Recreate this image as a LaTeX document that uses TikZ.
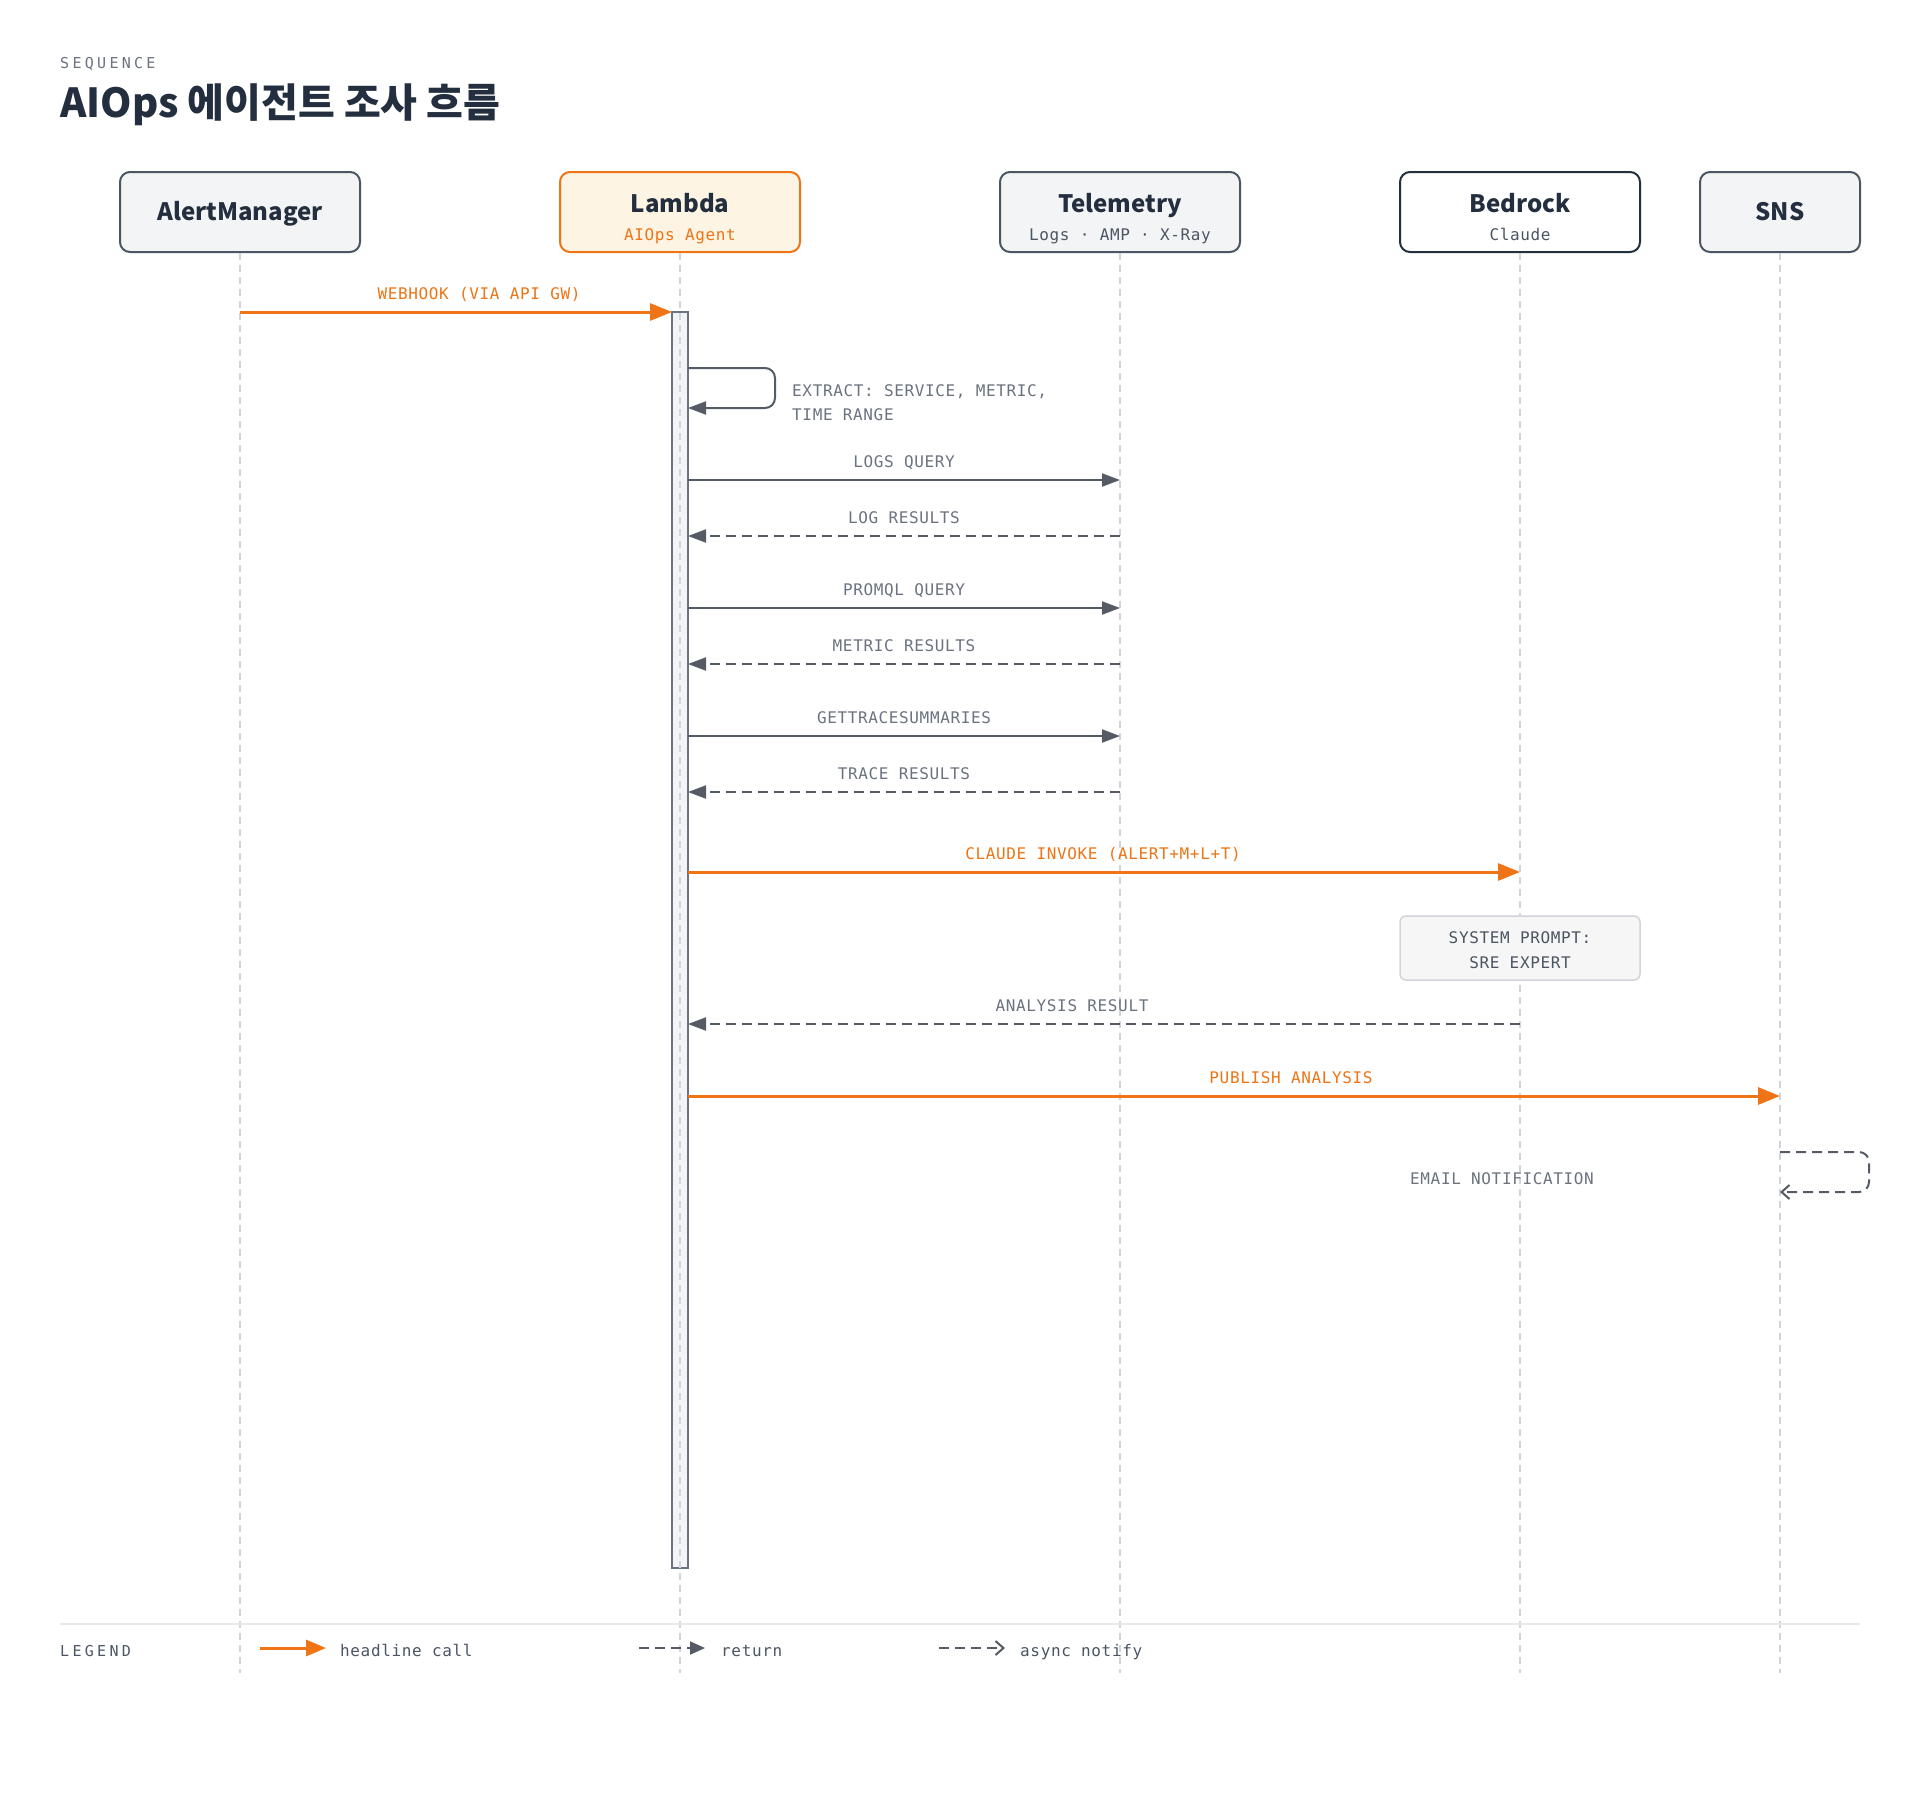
\documentclass[tikz,border=0pt]{standalone}
\usepackage{fontspec}
\usetikzlibrary{arrows.meta}
\setmainfont{Noto Sans CJK KR}
\setmonofont{DejaVu Sans Mono}
\newfontfamily\lblfont{DejaVu Sans Mono}[LetterSpace=4]
\newfontfamily\capfont{DejaVu Sans Mono}[LetterSpace=22]
\definecolor{accent}{HTML}{EE7415}
\definecolor{ink}{HTML}{232F3E}
\definecolor{arrowgray}{HTML}{545B64}
\definecolor{lblgray}{HTML}{6B7280}
\definecolor{subgray}{HTML}{4B5563}
\definecolor{lifegray}{HTML}{D1D5DB}
\definecolor{boxfill}{HTML}{F3F4F6}
\definecolor{lamfill}{HTML}{FEF4E4}
\definecolor{notefill}{HTML}{F6F6F6}
\definecolor{sepgray}{HTML}{E8E8E8}
\tikzset{
  every node/.style={inner sep=0pt},
  actor/.style={draw=subgray,fill=boxfill,line width=2pt,rounded corners=10pt,minimum width=240pt,minimum height=80pt},
  actortxt/.style={anchor=base,text=ink,font=\bfseries\fontsize{24}{28}\selectfont},
  subtxt/.style={anchor=base,text=subgray,font=\lblfont\fontsize{16}{19}\selectfont},
  lbl/.style={anchor=base,text=lblgray,font=\lblfont\fontsize{16}{19}\selectfont},
  legtxt/.style={anchor=base west,text=subgray,font=\lblfont\fontsize{16}{19}\selectfont},
  lifeline/.style={draw=lifegray,line width=1.5pt,dash pattern=on 7pt off 5pt},
  call/.style={draw=accent,line width=3pt,-{Triangle[length=22pt,width=17pt]}},
  msg/.style={draw=arrowgray,line width=2pt,-{Triangle[length=18pt,width=13pt]}},
  ret/.style={msg,dash pattern=on 10pt off 6pt},
  async/.style={draw=arrowgray,line width=2pt,dash pattern=on 10pt off 6pt,-{Straight Barb[length=8pt,width=14pt]}}
}
\begin{document}
\begin{tikzpicture}[x=1pt,y=-1pt]
\useasboundingbox[fill=white] (0,0) rectangle (1920,1800);
% heading
\node[anchor=base west,text=lblgray,font=\capfont\fontsize{15}{18}\selectfont] (kicker) at (60,68) {SEQUENCE};
\node[anchor=base west,text=ink,font=\bfseries\fontsize{40}{46}\selectfont] (title) at (60,117) {AIOps 에이전트 조사 흐름};
% actors
\node[actor] (am) at (240,212) {};
\node[actortxt] (am-t) at (240,220) {AlertManager};
\node[actor,draw=accent,fill=lamfill] (lam) at (680,212) {};
\node[actortxt] (lam-t) at (680,212) {Lambda};
\node[subtxt,text=accent] (lam-s) at (680,240) {AIOps Agent};
\node[actor] (tel) at (1120,212) {};
\node[actortxt] (tel-t) at (1120,212) {Telemetry};
\node[subtxt] (tel-s) at (1120,240) {Logs · AMP · X-Ray};
\node[actor,draw=ink,fill=white] (bed) at (1520,212) {};
\node[actortxt] (bed-t) at (1520,212) {Bedrock};
\node[subtxt] (bed-s) at (1520,240) {Claude};
\node[actor,minimum width=160pt] (sns) at (1780,212) {};
\node[actortxt] (sns-t) at (1780,220) {SNS};
% activation bar and lifelines
\node[draw=lblgray,fill=boxfill,line width=2pt,minimum width=16pt,minimum height=1256pt] (bar) at (680,940) {};
\coordinate (base) at (0,1673);
\foreach \a in {am,lam,tel,bed,sns}
  \draw[lifeline] (\a.south) -- (\a.south |- base);
% webhook
\coordinate (wh-a) at (240,312);
\coordinate (wh-b) at (672,312);
\draw[call] (wh-a) -- (wh-b);
\node[lbl,text=accent] (wh-l) at (479,299) {WEBHOOK (VIA API GW)};
% extract
\coordinate (ex-a) at (688,368);
\coordinate (ex-b) at (688,408);
\draw[msg,rounded corners=10pt] (ex-a) -- (775,368) -- (775,408) -- (ex-b);
\node[lbl,anchor=base west] (ex-l1) at (792,396) {EXTRACT: SERVICE, METRIC,};
\node[lbl,anchor=base west] (ex-l2) at (792,420) {TIME RANGE};
% telemetry queries
\foreach \y/\t in {480/LOGS QUERY, 608/PROMQL QUERY, 736/GETTRACESUMMARIES}{
  \coordinate (q\y a) at (688,\y);
  \coordinate (q\y b) at (1120,\y);
  \draw[msg] (q\y a) -- (q\y b);
  \node[lbl] (q\y l) at (904,\y-13) {\t};
}
\foreach \y/\t in {536/LOG RESULTS, 664/METRIC RESULTS, 792/TRACE RESULTS}{
  \coordinate (r\y a) at (1120,\y);
  \coordinate (r\y b) at (688,\y);
  \draw[ret] (r\y a) -- (r\y b);
  \node[lbl] (r\y l) at (904,\y-13) {\t};
}
% bedrock
\coordinate (cl-a) at (688,872);
\coordinate (cl-b) at (1520,872);
\draw[call] (cl-a) -- (cl-b);
\node[lbl,text=accent] (cl-l) at (1103,859) {CLAUDE INVOKE (ALERT+M+L+T)};
\node[draw=lifegray,fill=notefill,line width=1.5pt,rounded corners=6pt,minimum width=240pt,minimum height=64pt] (sp) at (1520,948) {};
\node[lbl,text=subgray] (sp-1) at (1520,943) {SYSTEM PROMPT:};
\node[lbl,text=subgray] (sp-2) at (1520,968) {SRE EXPERT};
\coordinate (an-a) at (1520,1024);
\coordinate (an-b) at (688,1024);
\draw[ret] (an-a) -- (an-b);
\node[lbl] (an-l) at (1072,1011) {ANALYSIS RESULT};
% sns
\coordinate (pu-a) at (688,1096);
\coordinate (pu-b) at (1780,1096);
\draw[call] (pu-a) -- (pu-b);
\node[lbl,text=accent] (pu-l) at (1291,1083) {PUBLISH ANALYSIS};
\coordinate (em-a) at (1780,1152);
\coordinate (em-b) at (1780,1192);
\draw[async,rounded corners=10pt] (em-a) -- (1869,1152) -- (1869,1192) -- (em-b);
\node[lbl] (em-l) at (1502,1184) {EMAIL NOTIFICATION};
% legend
\coordinate (sep-a) at (60,1624);
\coordinate (sep-b) at (1860,1624);
\draw[draw=sepgray,line width=2pt] (sep-a) -- (sep-b);
\node[anchor=base west,text=subgray,font=\capfont\fontsize{15}{18}\selectfont] (leg) at (60,1656) {LEGEND};
\coordinate (lg1a) at (260,1648);
\coordinate (lg1b) at (326,1648);
\draw[call,-{Triangle[length=20pt,width=16pt]}] (lg1a) -- (lg1b);
\node[legtxt] (lg1) at (340,1656) {headline call};
\coordinate (lg2a) at (639,1648);
\coordinate (lg2b) at (705,1648);
\draw[ret,-{Triangle[length=15pt,width=13pt]}] (lg2a) -- (lg2b);
\node[legtxt] (lg2) at (721,1656) {return};
\coordinate (lg3a) at (939,1648);
\coordinate (lg3b) at (1005,1648);
\draw[async] (lg3a) -- (lg3b);
\node[legtxt] (lg3) at (1020,1656) {async notify};
\end{tikzpicture}
\end{document}
